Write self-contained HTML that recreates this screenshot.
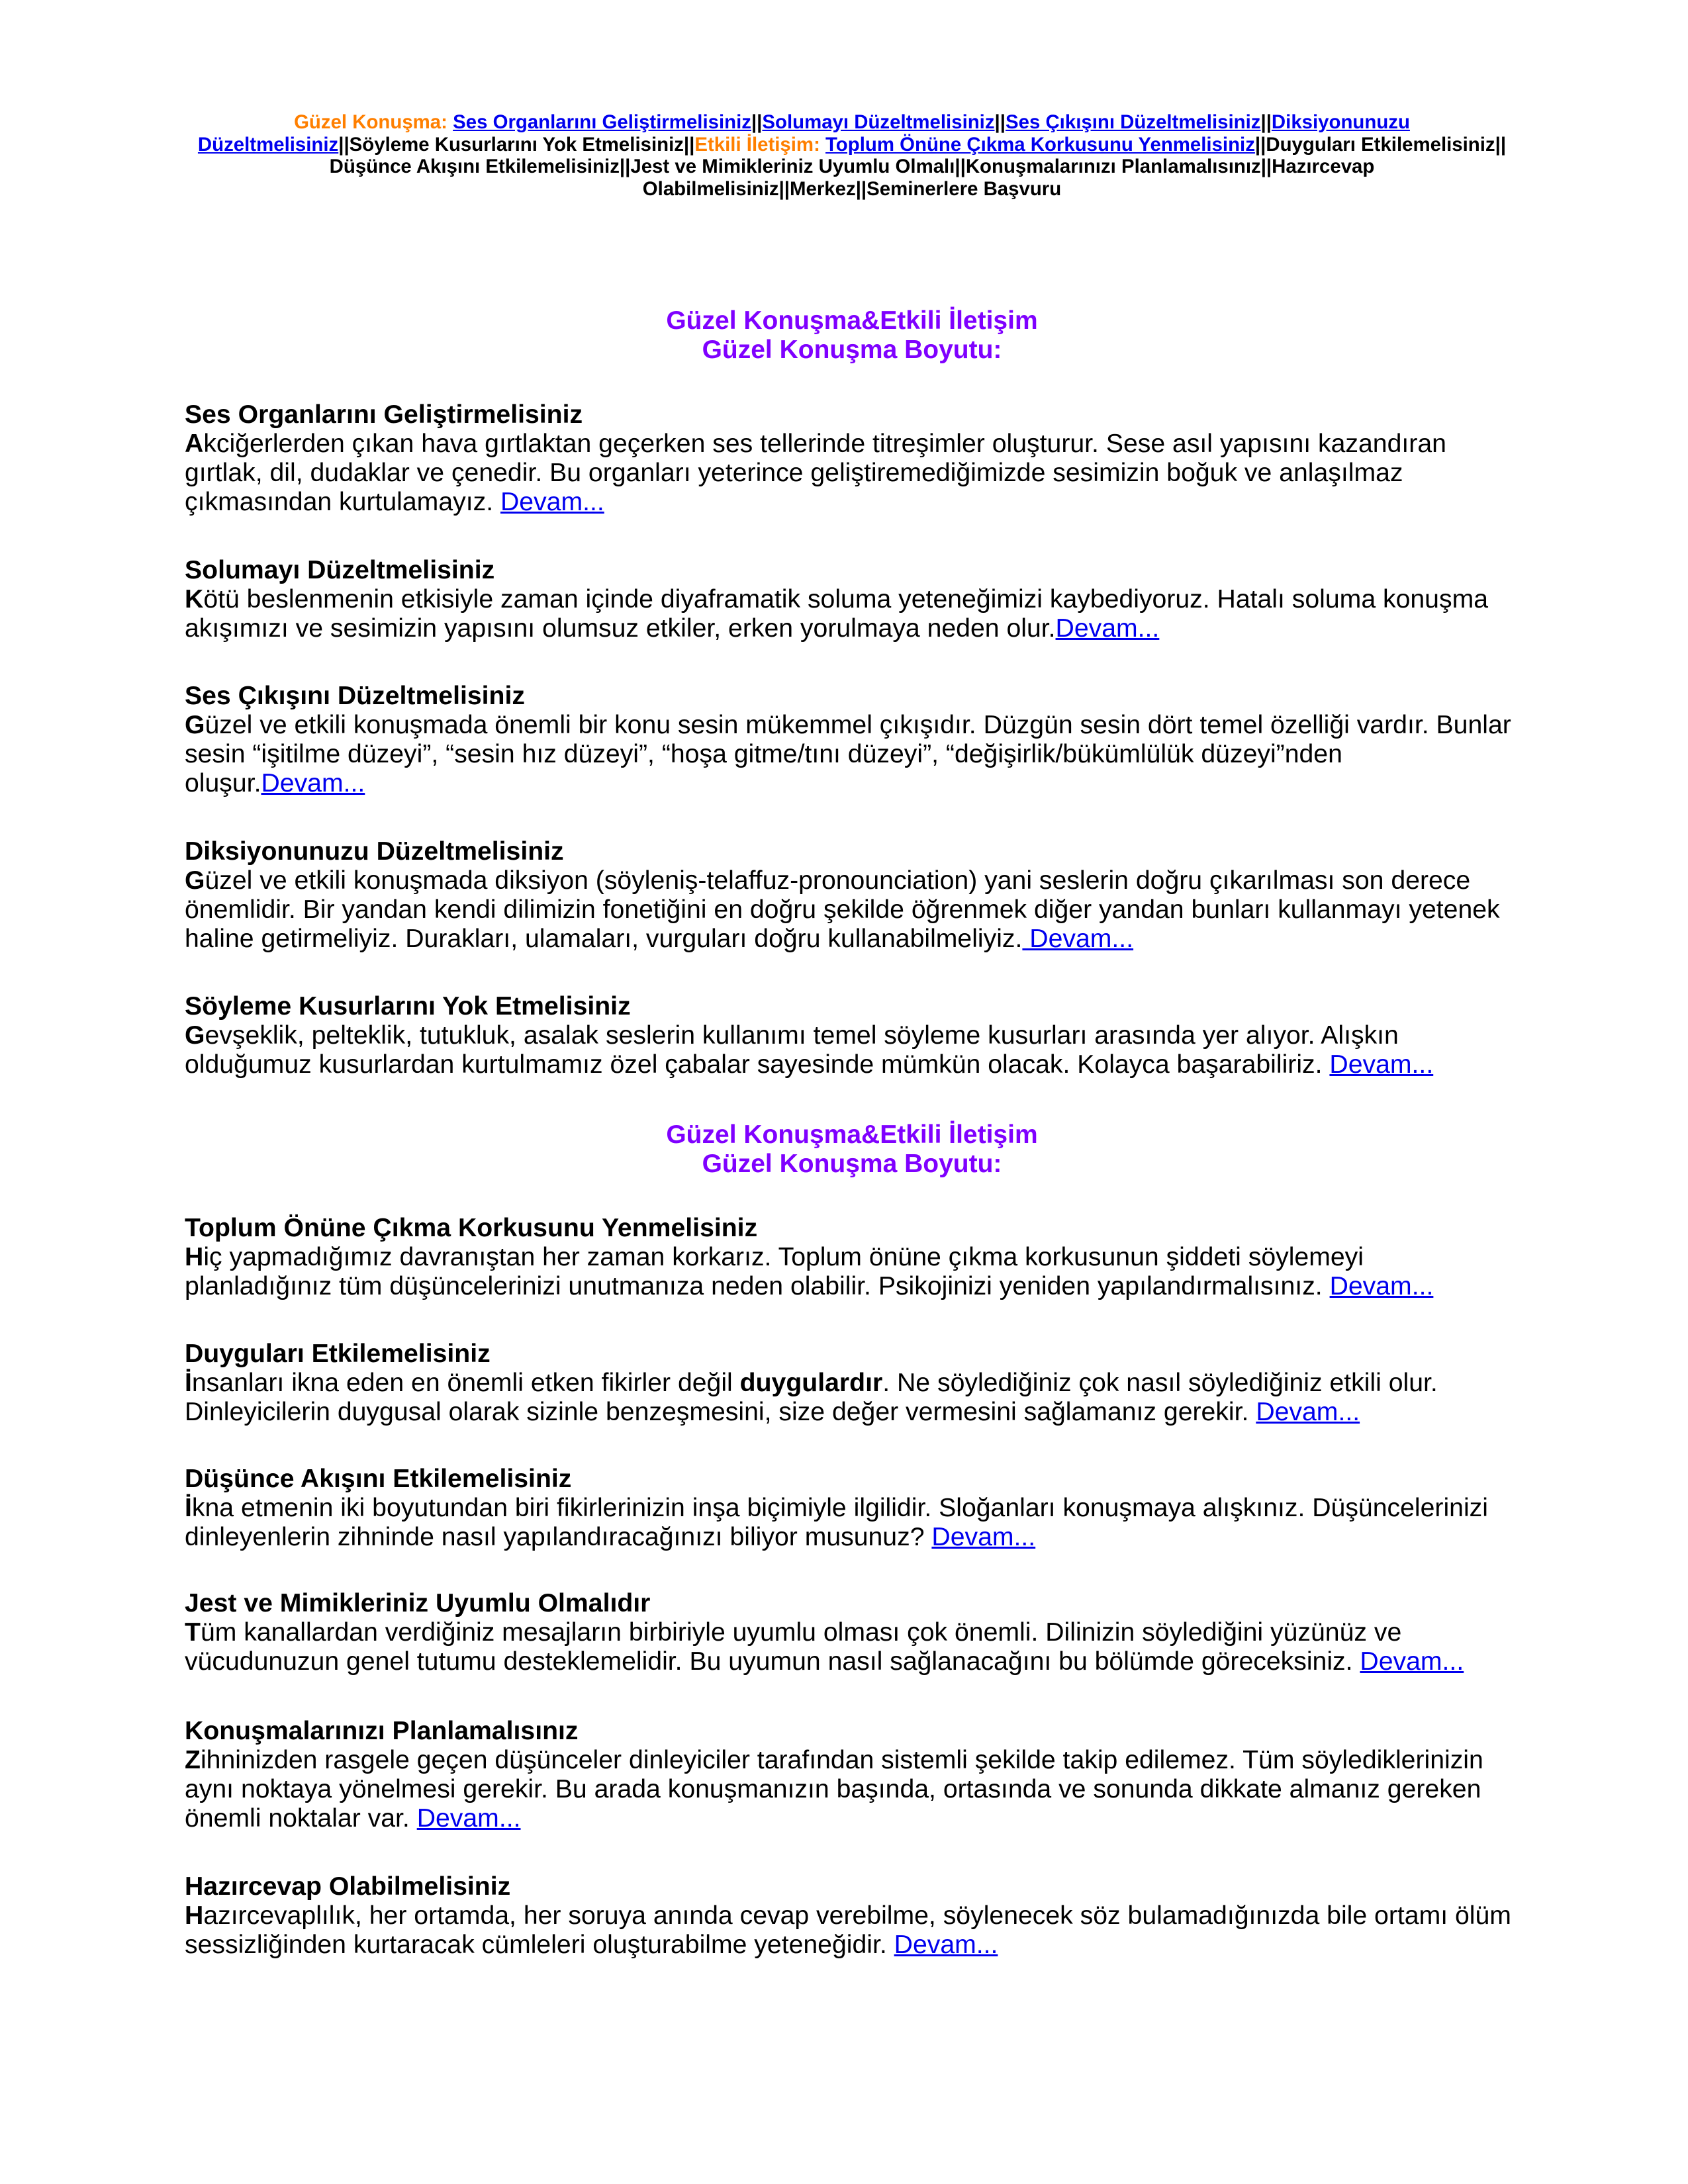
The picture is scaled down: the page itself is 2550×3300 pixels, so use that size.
<!DOCTYPE html>
<html><head><meta charset="utf-8">
<style>
html,body{margin:0;padding:0;background:#fff;}
body{width:2550px;height:3300px;position:relative;font-family:"Liberation Sans",Arial,sans-serif;color:#000;overflow:hidden;}
.nav{position:absolute;left:12px;width:2550px;top:168px;text-align:center;font-weight:bold;font-size:29.4px;line-height:33.5px;white-space:nowrap;}
.o{color:#ff7f00;}
a{color:#0000ee;text-decoration:underline;}
.t{position:absolute;left:12px;width:2550px;text-align:center;color:#7f00ff;font-weight:bold;font-size:39px;line-height:44px;}
.s{position:absolute;left:279px;font-size:39.2px;line-height:44px;white-space:nowrap;}
.s h{display:block;font-weight:bold;}
</style></head><body>
<div class="nav"><span class="o">Güzel Konuşma:</span> <a>Ses Organlarını Geliştirmelisiniz</a>||<a>Solumayı Düzeltmelisiniz</a>||<a>Ses Çıkışını Düzeltmelisiniz</a>||<a>Diksiyonunuzu</a><br><a>Düzeltmelisiniz</a>||Söyleme Kusurlarını Yok Etmelisiniz||<span class="o">Etkili İletişim:</span> <a>Toplum Önüne Çıkma Korkusunu Yenmelisiniz</a>||Duyguları Etkilemelisiniz||<br>Düşünce Akışını Etkilemelisiniz||Jest ve Mimikleriniz Uyumlu Olmalı||Konuşmalarınızı Planlamalısınız||Hazırcevap<br>Olabilmelisiniz||Merkez||Seminerlere Başvuru</div>

<div class="t" style="top:463px">Güzel Konuşma&amp;Etkili İletişim<br>Güzel Konuşma Boyutu:</div>

<div class="s" style="top:605px"><h>Ses Organlarını Geliştirmelisiniz</h><b>A</b>kciğerlerden çıkan hava gırtlaktan geçerken ses tellerinde titreşimler oluşturur. Sese asıl yapısını kazandıran<br>gırtlak, dil, dudaklar ve çenedir. Bu organları yeterince geliştiremediğimizde sesimizin boğuk ve anlaşılmaz<br>çıkmasından kurtulamayız. <a>Devam...</a></div>

<div class="s" style="top:840px"><h>Solumayı Düzeltmelisiniz</h><b>K</b>ötü beslenmenin etkisiyle zaman içinde diyaframatik soluma yeteneğimizi kaybediyoruz. Hatalı soluma konuşma<br>akışımızı ve sesimizin yapısını olumsuz etkiler, erken yorulmaya neden olur.<a>Devam...</a></div>

<div class="s" style="top:1030px"><h>Ses Çıkışını Düzeltmelisiniz</h><b>G</b>üzel ve etkili konuşmada önemli bir konu sesin mükemmel çıkışıdır. Düzgün sesin dört temel özelliği vardır. Bunlar<br>sesin “işitilme düzeyi”, “sesin hız düzeyi”, “hoşa gitme/tını düzeyi”, “değişirlik/bükümlülük düzeyi”nden<br>oluşur.<a>Devam...</a></div>

<div class="s" style="top:1265px"><h>Diksiyonunuzu Düzeltmelisiniz</h><b>G</b>üzel ve etkili konuşmada diksiyon (söyleniş-telaffuz-pronounciation) yani seslerin doğru çıkarılması son derece<br>önemlidir. Bir yandan kendi dilimizin fonetiğini en doğru şekilde öğrenmek diğer yandan bunları kullanmayı yetenek<br>haline getirmeliyiz. Durakları, ulamaları, vurguları doğru kullanabilmeliyiz.<a> Devam...</a></div>

<div class="s" style="top:1499px"><h>Söyleme Kusurlarını Yok Etmelisiniz</h><b>G</b>evşeklik, pelteklik, tutukluk, asalak seslerin kullanımı temel söyleme kusurları arasında yer alıyor. Alışkın<br>olduğumuz kusurlardan kurtulmamız özel çabalar sayesinde mümkün olacak. Kolayca başarabiliriz. <a>Devam...</a></div>

<div class="t" style="top:1693px">Güzel Konuşma&amp;Etkili İletişim<br>Güzel Konuşma Boyutu:</div>

<div class="s" style="top:1834px"><h>Toplum Önüne Çıkma Korkusunu Yenmelisiniz</h><b>H</b>iç yapmadığımız davranıştan her zaman korkarız. Toplum önüne çıkma korkusunun şiddeti söylemeyi<br>planladığınız tüm düşüncelerinizi unutmanıza neden olabilir. Psikojinizi yeniden yapılandırmalısınız. <a>Devam...</a></div>

<div class="s" style="top:2024px"><h>Duyguları Etkilemelisiniz</h><b>İ</b>nsanları ikna eden en önemli etken fikirler değil <b>duygulardır</b>. Ne söylediğiniz çok nasıl söylediğiniz etkili olur.<br>Dinleyicilerin duygusal olarak sizinle benzeşmesini, size değer vermesini sağlamanız gerekir. <a>Devam...</a></div>

<div class="s" style="top:2213px"><h>Düşünce Akışını Etkilemelisiniz</h><b>İ</b>kna etmenin iki boyutundan biri fikirlerinizin inşa biçimiyle ilgilidir. Sloğanları konuşmaya alışkınız. Düşüncelerinizi<br>dinleyenlerin zihninde nasıl yapılandıracağınızı biliyor musunuz? <a>Devam...</a></div>

<div class="s" style="top:2401px"><h>Jest ve Mimikleriniz Uyumlu Olmalıdır</h><b>T</b>üm kanallardan verdiğiniz mesajların birbiriyle uyumlu olması çok önemli. Dilinizin söylediğini yüzünüz ve<br>vücudunuzun genel tutumu desteklemelidir. Bu uyumun nasıl sağlanacağını bu bölümde göreceksiniz. <a>Devam...</a></div>

<div class="s" style="top:2594px"><h>Konuşmalarınızı Planlamalısınız</h><b>Z</b>ihninizden rasgele geçen düşünceler dinleyiciler tarafından sistemli şekilde takip edilemez. Tüm söylediklerinizin<br>aynı noktaya yönelmesi gerekir. Bu arada konuşmanızın başında, ortasında ve sonunda dikkate almanız gereken<br>önemli noktalar var. <a>Devam...</a></div>

<div class="s" style="top:2829px"><h>Hazırcevap Olabilmelisiniz</h><b>H</b>azırcevaplılık, her ortamda, her soruya anında cevap verebilme, söylenecek söz bulamadığınızda bile ortamı ölüm<br>sessizliğinden kurtaracak cümleleri oluşturabilme yeteneğidir. <a>Devam...</a></div>
</body></html>
